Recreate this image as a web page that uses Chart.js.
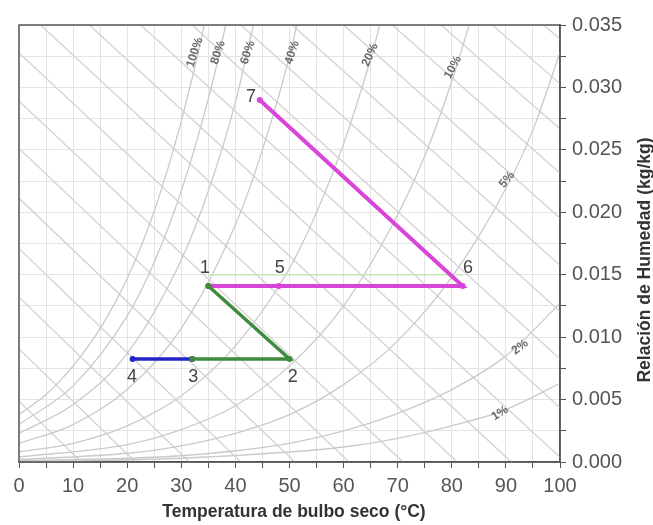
<!DOCTYPE html>
<html>
<head>
<meta charset="utf-8">
<script src="https://cdn.jsdelivr.net/npm/chart.js@4.4.1/dist/chart.umd.min.js"></script>
<style>
  html, body { margin: 0; background: #fff; }
  #wrap { width: 653px; height: 525px; }
</style>
</head>
<body>
<div id="wrap"><canvas id="psyChart"></canvas></div>
<script>
// ---- axis ranges
const tempRange = [0, 100];
const humRange = [0, 0.035];

// ---- relative humidity curves [T (°C), W (kg/kg)]
const rh100 = [[0,0.0038],[5,0.0054],[10,0.0077],[15,0.0107],[20,0.0147],[25,0.0201],[30,0.0273],[34,0.0345],[36,0.0390]];
const rh80  = [[0,0.0030],[10,0.0061],[20,0.0117],[25,0.0160],[30,0.0217],[35,0.0291],[38,0.0346],[40,0.0390]];
const rh60  = [[0,0.0023],[10,0.0046],[20,0.0087],[30,0.0162],[35,0.0217],[40,0.0288],[43,0.0344],[45,0.0380]];
const rh40  = [[0,0.0015],[10,0.0030],[20,0.0058],[30,0.0107],[40,0.0190],[45,0.0250],[50,0.0325],[52,0.0363]];
const rh20  = [[0,0.0008],[10,0.0015],[20,0.0029],[30,0.0053],[40,0.0093],[50,0.0155],[55,0.0200],[60,0.0255],[65,0.0323],[67,0.0355]];
const rh10  = [[0,0.0004],[20,0.0014],[30,0.0026],[40,0.0045],[50,0.0077],[60,0.0125],[70,0.0198],[75,0.0245],[80,0.0305],[85,0.0376]];
const rh5   = [[0,0.0002],[20,0.0007],[30,0.0013],[40,0.0023],[50,0.0038],[60,0.0062],[70,0.0097],[80,0.0148],[90,0.0219],[95,0.0266],[100,0.0328]];
const rh2   = [[0,0.0001],[20,0.0003],[30,0.0005],[40,0.0009],[50,0.0015],[60,0.0025],[70,0.0039],[80,0.0058],[90,0.0085],[100,0.0127]];
const rh1   = [[0,0.0000],[30,0.0003],[50,0.0008],[60,0.0012],[70,0.0019],[80,0.0029],[90,0.0042],[100,0.0063]];
const rhCurves = [rh100, rh80, rh60, rh40, rh20, rh10, rh5, rh2, rh1];
const rhNames = ['100%', '80%', '60%', '40%', '20%', '10%', '5%', '2%', '1%'];
const rhLabelAt = [[32.5,0.0328],[36.8,0.0328],[42.3,0.0328],[50.5,0.0328],[64.9,0.0326],[80.2,0.0316],[90.2,0.0226],[92.6,0.0092],[88.9,0.0039]];

// ---- enthalpy lines: T where each crosses W = 0 and W = 0.035
const enthBottomT = [11.5, 21.5, 31.5, 41, 51, 61, 71, 81, 91, 101, 111, 121, 131, 140.5, 150.5, 160.5, 170.5, 180.5, 190.5];
const enthTopT    = [-71, -61.5, -52, -43, -33.5, -24, -15, -5.5, 4, 13, 22.5, 32, 41, 50.5, 60, 69, 78, 87.5, 97];

// ---- process states
const stateNames = ['1', '2', '3', '4', '5', '6', '7'];
const stateT = [35, 50, 32, 21, 48, 82, 44.5];
const stateW = [0.0141, 0.00825, 0.00825, 0.00825, 0.0141, 0.0141, 0.0290];
const stateLabelT = [34.4, 50.6, 32.2, 20.9, 48.2, 83, 42.9];
const stateLabelW = [0.0155, 0.0068, 0.0068, 0.0068, 0.0155, 0.0155, 0.0292];

const bluePath = ['4', '3'];
const greenPath = ['3', '2', '1'];
const magentaPath = ['1', '5', '6', '7'];
const paleLine = [[35, 0.0150], [82, 0.0150]];

const pt = name => {
  const i = stateNames.indexOf(name);
  return { x: stateT[i], y: stateW[i] };
};

const datasets = [];

enthBottomT.forEach((tb, i) => {
  datasets.push({
    data: [{ x: enthTopT[i], y: humRange[1] }, { x: tb, y: 0 }],
    borderColor: '#d2d2d2', borderWidth: 1.3, pointRadius: 0, showLine: true, order: 20
  });
});

rhCurves.forEach(c => {
  datasets.push({
    data: c.map(p => ({ x: p[0], y: p[1] })),
    borderColor: '#cacaca', borderWidth: 1.3, pointRadius: 0, showLine: true,
    cubicInterpolationMode: 'monotone', order: 15
  });
});

datasets.push({
  data: paleLine.map(p => ({ x: p[0], y: p[1] })),
  borderColor: '#c4e6bb', borderWidth: 1.5, pointRadius: 0, showLine: true, order: 5
});

const proc = (path, color, w) => ({
  data: path.map(pt), borderColor: color, backgroundColor: color, borderWidth: w,
  pointRadius: 3, pointBorderWidth: 0, showLine: true, order: 1
});
datasets.push(proc(greenPath, '#3e8b3e', 3.5));
datasets.push(proc(bluePath, '#2323c8', 3.5));
datasets.push(proc(magentaPath, '#d944d9', 4));

const labelsPlugin = {
  id: 'labels',
  afterDatasetsDraw(chart) {
    const { ctx, chartArea: a, scales: { x, y } } = chart;
    ctx.save();
    // frame
    ctx.strokeStyle = '#555';
    ctx.lineWidth = 1.5;
    ctx.strokeRect(a.left, a.top, a.right - a.left, a.bottom - a.top);

    // RH labels
    const rhAngles = [-72, -72, -72, -72, -66, -62, -50, -38, -33];
    ctx.fillStyle = '#6a6a6a';
    ctx.font = 'bold 12px "Liberation Sans", Arial, sans-serif';
    ctx.textAlign = 'center';
    ctx.textBaseline = 'middle';
    rhNames.forEach((n, i) => {
      ctx.save();
      ctx.translate(x.getPixelForValue(rhLabelAt[i][0]), y.getPixelForValue(rhLabelAt[i][1]));
      ctx.rotate(rhAngles[i] * Math.PI / 180);
      ctx.fillText(n, 0, 0);
      ctx.restore();
    });

    // state numbers
    ctx.fillStyle = '#444';
    ctx.font = '18px "Liberation Sans", Arial, sans-serif';
    stateNames.forEach((n, i) => {
      ctx.fillText(n, x.getPixelForValue(stateLabelT[i]), y.getPixelForValue(stateLabelW[i]));
    });

    // axis titles
    ctx.fillStyle = '#333';
    ctx.font = 'bold 17.5px "Liberation Sans", Arial, sans-serif';
    ctx.fillText('Temperatura de bulbo seco (°C)', 294, 512);
    ctx.save();
    ctx.translate(645, 260);
    ctx.rotate(-Math.PI / 2);
    ctx.fillText('Relación de Humedad (kg/kg)', 0, 0);
    ctx.restore();
    ctx.restore();
  }
};

new Chart(document.getElementById('psyChart'), {
  type: 'scatter',
  data: { datasets },
  options: {
    responsive: true,
    maintainAspectRatio: false,
    animation: false,
    layout: { padding: { left: 19, top: 25, right: 0, bottom: 0 } },
    plugins: { legend: { display: false }, tooltip: { enabled: false } },
    scales: {
      x: {
        type: 'linear', position: 'bottom', min: tempRange[0], max: tempRange[1],
        afterFit: s => { s.height = 63; },
        grid: { color: '#e4e4e4', tickColor: '#555', tickLength: 6 },
        border: { color: '#555', width: 1.5 },
        ticks: {
          stepSize: 5, autoSkip: false, maxRotation: 0, padding: 6, color: '#555',
          font: { size: 20, family: '"Liberation Sans", Arial, sans-serif' },
          callback: (v, i) => (i % 2 === 0 ? String(v) : '')
        }
      },
      y: {
        type: 'linear', position: 'right', min: humRange[0], max: humRange[1],
        afterFit: s => { s.width = 93; },
        grid: { color: '#e4e4e4', tickColor: '#555', tickLength: 6 },
        border: { color: '#555', width: 1.5 },
        ticks: {
          stepSize: 0.0025, autoSkip: false, padding: 6, color: '#555',
          font: { size: 20, family: '"Liberation Sans", Arial, sans-serif' },
          callback: (v, i) => (i % 2 === 0 ? v.toFixed(3) : '')
        }
      }
    }
  },
  plugins: [labelsPlugin]
});
</script>
</body>
</html>
